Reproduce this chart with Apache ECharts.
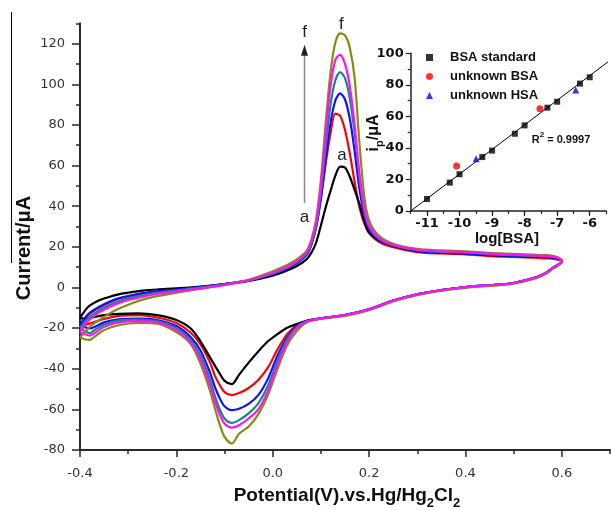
<!DOCTYPE html>
<html>
<head>
<meta charset="utf-8">
<script src="https://cdn.jsdelivr.net/npm/echarts@6/dist/echarts.min.js"></script>
<style>
html, body { margin: 0; padding: 0; background: #fff; }
#chart { width: 611px; height: 510px; }
</style>
</head>
<body>
<div id="chart"></div>
<script>
// Potential steps of the anodic (forward) and cathodic (reverse) scans, V vs SCE
const fwdPotential = [-0.4, -0.39, -0.38, -0.36, -0.34, -0.32, -0.3, -0.27, -0.24, -0.2, -0.15, -0.1, -0.05, 0, 0.03, 0.05, 0.07, 0.08, 0.09, 0.1, 0.11, 0.12, 0.13, 0.14, 0.15, 0.16, 0.17, 0.18, 0.19, 0.2, 0.22, 0.25, 0.3, 0.35, 0.4, 0.45, 0.5, 0.55, 0.57, 0.59, 0.6];
const revPotential = [0.59, 0.58, 0.57, 0.55, 0.5, 0.45, 0.4, 0.35, 0.3, 0.25, 0.2, 0.15, 0.1, 0.07, 0.05, 0.03, 0.01, -0.01, -0.03, -0.05, -0.07, -0.085, -0.1, -0.11, -0.12, -0.13, -0.15, -0.17, -0.2, -0.24, -0.28, -0.32, -0.35, -0.37, -0.38, -0.39, -0.4];

// Currents (µA), curve a .. f
const fwdA = [-15, -11.5, -9, -6.3, -4.7, -3.4, -2.6, -1.6, -1.0, -0.5, 0.4, 1.6, 3.2, 5.8, 8.3, 10.5, 13.8, 17, 22, 30.5, 39.5, 47.5, 55, 59.5, 59, 54.5, 48, 41, 32.5, 27, 23.2, 20.4, 17.9, 17.1, 16.7, 15.9, 15.4, 15.1, 14.9, 14.3, 12.8];
const revA = [10.8, 9.4, 7.6, 5.2, 2.2, 1.1, 0.2, -1.3, -3.4, -6.5, -10.8, -13.6, -15.2, -16.4, -18, -19.8, -23, -26.5, -31.5, -37, -43, -47.6, -46, -42.4, -38.5, -34.5, -26.5, -20.2, -16, -13.6, -12.8, -13, -13.6, -14.5, -15.2, -15.4, -15];

const fwdB = [-19, -15.5, -13, -10, -7.5, -5.6, -4.4, -3, -2, -1.1, 0.2, 1.7, 3.5, 6.3, 9, 11.8, 16, 21, 30, 44, 61, 76, 85.5, 84.5, 77.5, 66, 52, 39.5, 31.5, 26.8, 22.5, 19.8, 17.4, 16.7, 16.3, 15.4, 15, 14.5, 14.3, 13.8, 12.6];
const revB = [10.8, 9.4, 7.6, 5.2, 2.2, 1.1, 0.2, -1.3, -3.4, -6.5, -10.8, -13.6, -15.2, -16.5, -18.5, -23, -30.5, -39.5, -45.5, -49.5, -52, -53, -51.5, -48, -43.5, -37, -28, -22.3, -17.5, -14.8, -13.6, -14, -15.5, -17, -17.8, -18.5, -19];

const fwdC = [-18.5, -15, -12.5, -9.5, -7.2, -5.4, -4.2, -2.8, -1.9, -1.0, 0.2, 1.7, 3.5, 6.5, 9.3, 12, 16, 21, 29.5, 44, 63, 81, 92, 95.5, 92.5, 83, 67, 48.5, 35.5, 28.8, 23.5, 20.5, 18, 17.2, 16.8, 16, 15.5, 15.2, 15, 14.4, 12.8];
const revC = [10.8, 9.4, 7.6, 5.2, 2.2, 1.1, 0.2, -1.3, -3.4, -6.5, -10.8, -13.6, -15.2, -16.6, -19, -24.5, -33.5, -45, -53, -57.3, -59.7, -60.4, -58.5, -54.5, -49, -42, -31, -24.5, -19, -16, -15.3, -15.7, -17.2, -19.5, -20.2, -19.6, -18.5];

const fwdD = [-20, -17, -14.5, -11.3, -8.8, -6.8, -5.4, -3.8, -2.7, -1.5, -0.1, 1.5, 3.5, 6.8, 9.7, 12.5, 16.5, 21.5, 30.5, 47, 69, 90, 102, 106, 103, 93, 76, 54, 38, 30, 24, 20.8, 18.3, 17.5, 17.2, 16.4, 15.9, 15.5, 15.3, 14.6, 13];
const revD = [10.8, 9.4, 7.6, 5.2, 2.2, 1.1, 0.2, -1.3, -3.4, -6.5, -10.8, -13.6, -15.2, -16.7, -19.5, -25.5, -36, -48.5, -57, -62, -65.3, -66.7, -64.5, -60, -53.5, -45.5, -33.5, -26, -20, -16.6, -15.8, -16.3, -18.2, -21, -22.5, -21.5, -20];

const fwdE = [-22, -18.5, -15.8, -12.3, -9.7, -7.7, -6.2, -4.5, -3.2, -1.9, -0.4, 1.3, 3.5, 7.2, 10.2, 13, 17, 22.5, 32, 50, 76, 99, 112, 114.5, 110, 99, 80, 56, 39, 30.5, 24.5, 21, 18.6, 17.8, 17.4, 16.6, 16.1, 15.7, 15.5, 14.8, 13];
const revE = [10.8, 9.4, 7.6, 5.2, 2.2, 1.1, 0.2, -1.3, -3.4, -6.5, -10.8, -13.6, -15.2, -16.9, -20, -27, -38, -51, -60, -64.5, -67.8, -69, -67, -62.5, -56, -48, -35.5, -27.3, -21, -17.3, -16.6, -17.2, -19.3, -22.5, -23.7, -23, -22];

const fwdF = [-24.5, -22, -19.5, -16, -13, -10.5, -8.5, -6, -4.3, -2.6, -0.7, 1.2, 3.8, 8, 11, 13.8, 18, 23.5, 33.5, 53, 81, 106, 120.5, 125, 124, 118, 103, 71, 45, 33, 25.5, 21.5, 19, 18.2, 17.8, 17, 16.5, 16, 15.9, 15, 13.2];
const revF = [10.4, 9.0, 7.2, 4.8, 1.8, 0.7, -0.2, -1.7, -3.8, -6.9, -11.2, -14, -15.5, -17.2, -21.5, -28.5, -40, -53, -62.5, -68.5, -72, -76.8, -73.5, -67.5, -59.5, -51, -37.5, -28, -22, -17.8, -17.5, -18.6, -21, -24.3, -25.8, -25.5, -24.5];

const curveColors = ['#000000', '#ff0000', '#1010ff', '#0f8a80', '#ff10ff', '#8a8a10'];

// Calibration: log[BSA] against peak current (µA)
const stdLogC = [-11, -10.3, -10, -9.3, -9, -8.3, -8, -7.3, -7, -6.3, -6];
const stdIp = [7.6, 18.0, 23.3, 34.2, 38.3, 49.0, 54.3, 65.5, 69.3, 80.8, 84.8];
const bsaLogC = [-10.09, -7.53];
const bsaIp = [28.5, 64.9];
const hsaLogC = [-9.49, -6.43];
const hsaIp = [33.2, 76.7];
const fitLogC = [-11.5, -5.36];
const fitIp = [0, 95.8];

const mainXMajor = [-0.4, -0.2, 0, 0.2, 0.4, 0.6];
const mainYMajor = [-80, -60, -40, -20, 0, 20, 40, 60, 80, 100, 120];
const insetXMajor = [-11, -10, -9, -8, -7, -6];

const zip = (xs, ys) => xs.map((x, i) => [x, ys[i]]);
const loop = (f, r) => zip(fwdPotential, f).concat(zip(revPotential, r));

const curves = [
  ['a', fwdA, revA], ['b', fwdB, revB], ['c', fwdC, revC],
  ['d', fwdD, revD], ['e', fwdE, revE], ['f', fwdF, revF]
];
// paint order: b, a, c, d, f, e (e ends on top)
const drawOrder = [1, 0, 2, 3, 5, 4];

const AX = '#2a2a2a';
const SANS = 'Liberation Sans, Arial, sans-serif';
const DEJAVU = 'DejaVu Sans, sans-serif';

const chart = echarts.init(document.getElementById('chart'), null, { renderer: 'canvas' });

const series = drawOrder.map(k => ({
  name: 'curve ' + curves[k][0],
  type: 'line',
  xAxisIndex: 0, yAxisIndex: 0,
  data: loop(curves[k][1], curves[k][2]),
  showSymbol: false,
  smooth: 0.3,
  silent: true,
  lineStyle: { color: curveColors[k], width: 2.2 },
  z: 2
}));

series.push(
  { name: 'fit', type: 'line', xAxisIndex: 3, yAxisIndex: 2, data: zip(fitLogC, fitIp),
    showSymbol: false, clip: false, silent: true, lineStyle: { color: '#000', width: 1 }, z: 3 },
  { name: 'BSA standard', type: 'scatter', xAxisIndex: 3, yAxisIndex: 2, data: zip(stdLogC, stdIp),
    symbol: 'rect', symbolSize: 6, itemStyle: { color: '#000' }, z: 4 },
  { name: 'unknown BSA', type: 'scatter', xAxisIndex: 3, yAxisIndex: 2, data: zip(bsaLogC, bsaIp),
    symbol: 'circle', symbolSize: 7, itemStyle: { color: '#ff0000' }, z: 4 },
  { name: 'unknown HSA', type: 'scatter', xAxisIndex: 3, yAxisIndex: 2, data: zip(hsaLogC, hsaIp),
    symbol: 'triangle', symbolSize: 7, itemStyle: { color: '#0000ff' }, z: 4 }
);

const fmt1 = v => (Math.abs(v) < 1e-9 ? 0 : v).toFixed(1);

const option = {
  animation: false,
  backgroundColor: '#fff',
  grid: [
    { left: 80, top: 23.3, right: 1, bottom: 60, outerBoundsMode: 'none', containLabel: false },
    { left: 410.7, top: 53.3, width: 195.3, height: 157.7, outerBoundsMode: 'none', containLabel: false }
  ],
  xAxis: [
    { // main potential axis, major ticks + labels
      gridIndex: 0, type: 'value', position: 'bottom', min: -0.4, max: 0.7,
      axisLine: { show: true, onZero: false, lineStyle: { color: AX, width: 2 } },
      axisTick: { show: true, customValues: mainXMajor, length: 7, lineStyle: { color: AX, width: 1.5 } },
      axisLabel: { customValues: mainXMajor, formatter: fmt1, fontFamily: DEJAVU, fontSize: 13, color: '#333', margin: 17 },
      splitLine: { show: false }
    },
    { // main potential axis, minor ticks
      gridIndex: 0, type: 'value', position: 'bottom', min: -0.4, max: 0.7, interval: 0.1,
      axisLine: { show: false, onZero: false },
      axisTick: { show: true, length: 4, lineStyle: { color: AX, width: 1.5 } },
      axisLabel: { show: false }, splitLine: { show: false }
    },
    { // inset axis, half-unit ticks
      gridIndex: 1, type: 'value', position: 'bottom', min: -11.5, max: -5.5, interval: 0.5,
      axisLine: { show: true, onZero: false, lineStyle: { color: '#222', width: 1.5 } },
      axisTick: { show: true, length: 3, lineStyle: { color: '#222', width: 1.2 } },
      axisLabel: { show: false }, splitLine: { show: false }
    },
    { // inset axis, unit ticks + labels
      gridIndex: 1, type: 'value', position: 'bottom', min: -11.5, max: -5.5,
      axisLine: { show: false, onZero: false },
      axisTick: { show: true, customValues: insetXMajor, length: 5, lineStyle: { color: '#222', width: 1.2 } },
      axisLabel: { customValues: insetXMajor, fontFamily: DEJAVU, fontWeight: 'bold', fontSize: 13, color: '#111', margin: 6 },
      splitLine: { show: false }
    }
  ],
  yAxis: [
    {
      gridIndex: 0, type: 'value', position: 'left', min: -80, max: 130,
      axisLine: { show: true, onZero: false, lineStyle: { color: AX, width: 2 } },
      axisTick: { show: true, customValues: mainYMajor, length: 8, lineStyle: { color: AX, width: 1.5 } },
      axisLabel: { customValues: mainYMajor, fontFamily: DEJAVU, fontSize: 13, color: '#333', margin: 15 },
      splitLine: { show: false }
    },
    {
      gridIndex: 0, type: 'value', position: 'left', min: -80, max: 130, interval: 10,
      axisLine: { show: false, onZero: false },
      axisTick: { show: true, length: 4, lineStyle: { color: AX, width: 1.5 } },
      axisLabel: { show: false }, splitLine: { show: false }
    },
    {
      gridIndex: 1, type: 'value', position: 'left', min: 0, max: 100, interval: 20,
      axisLine: { show: true, onZero: false, lineStyle: { color: '#222', width: 1.5 } },
      axisTick: { show: true, length: 5, lineStyle: { color: '#222', width: 1.2 } },
      minorTick: { show: true, splitNumber: 2, length: 3, lineStyle: { color: '#222', width: 1.2 } },
      axisLabel: { fontFamily: DEJAVU, fontWeight: 'bold', fontSize: 13, color: '#111', margin: 7 },
      splitLine: { show: false }
    }
  ],
  legend: {
    data: [
      { name: 'BSA standard', icon: 'rect' },
      { name: 'unknown BSA', icon: 'circle' },
      { name: 'unknown HSA', icon: 'triangle' }
    ],
    orient: 'vertical', left: 421, top: 46,
    itemWidth: 7, itemHeight: 7, itemGap: 6,
    selectedMode: false,
    textStyle: { fontFamily: SANS, fontWeight: 'bold', fontSize: 13, color: '#111', lineHeight: 13, padding: [0, 0, 0, 12] }
  },
  series: series
};

chart.setOption(option);

// Text made of pieces with sub/superscripts, centred on (cx, cy)
const meas = document.createElement('canvas').getContext('2d');
function pieceText(parts, cx, cy, rotation, color) {
  let total = 0;
  const widths = parts.map(p => {
    meas.font = (p.weight || 'normal') + ' ' + p.size + 'px ' + p.family;
    const w = meas.measureText(p.t).width;
    total += w;
    return w;
  });
  let x = -total / 2;
  const children = parts.map((p, i) => {
    const el = {
      type: 'text', x: x, y: p.dy || 0,
      style: { text: p.t, fontSize: p.size, fontWeight: p.weight || 'normal', fontFamily: p.family,
               fill: color || '#111', align: 'left', verticalAlign: 'middle' }
    };
    x += widths[i];
    return el;
  });
  return { type: 'group', x: cx, y: cy, rotation: rotation || 0, children: children };
}

const px = (v, i) => chart.convertToPixel({ xAxisIndex: 0, yAxisIndex: 0 }, [v, i]);
const arrowTop = px(0.066, 119.5);
const arrowBot = px(0.066, 41.5);
const fLeft = px(0.066, 125.5);
const aLeft = px(0.066, 34.5);
const fPeak = px(0.1425, 129.5);
const aPeak = px(0.1435, 65);

const B = 'bold';
const graphics = [
  // axis titles
  pieceText([
    { t: 'Potential(V).vs.Hg/Hg', size: 19, weight: B, family: SANS },
    { t: '2', size: 13, weight: B, family: SANS, dy: 7 },
    { t: 'Cl', size: 19, weight: B, family: SANS },
    { t: '2', size: 13, weight: B, family: SANS, dy: 7 }
  ], 347, 496, 0, '#111'),
  pieceText([{ t: 'Current/\u03bcA', size: 20, weight: B, family: SANS }], 24, 248, Math.PI / 2, '#111'),
  pieceText([
    { t: 'i', size: 16, weight: B, family: SANS },
    { t: 'p', size: 11, weight: B, family: SANS, dy: 6 },
    { t: '/\u03bcA', size: 16, weight: B, family: SANS }
  ], 374, 133, Math.PI / 2, '#111'),
  pieceText([{ t: 'log[BSA]', size: 15, weight: B, family: SANS }], 507, 239, 0, '#111'),
  pieceText([
    { t: 'R', size: 11, weight: B, family: SANS },
    { t: '2', size: 8, weight: B, family: SANS, dy: -5 },
    { t: ' = 0.9997', size: 11, weight: B, family: SANS }
  ], 561, 140, 0, '#111'),
  // scan-direction arrow a -> f
  { type: 'line', shape: { x1: arrowBot[0], y1: arrowBot[1], x2: arrowTop[0], y2: arrowTop[1] + 8 },
    style: { stroke: '#8a8a8a', lineWidth: 1.5 } },
  { type: 'polygon', shape: { points: [[arrowTop[0], arrowTop[1]], [arrowTop[0] - 3.5, arrowTop[1] + 11], [arrowTop[0] + 3.5, arrowTop[1] + 11]] },
    style: { fill: '#222' } },
  { type: 'text', x: fLeft[0], y: fLeft[1], style: { text: 'f', fontSize: 17, fontFamily: SANS, fill: '#222', align: 'center', verticalAlign: 'middle' } },
  { type: 'text', x: aLeft[0], y: aLeft[1], style: { text: 'a', fontSize: 17, fontFamily: SANS, fill: '#222', align: 'center', verticalAlign: 'middle' } },
  { type: 'text', x: fPeak[0], y: fPeak[1], style: { text: 'f', fontSize: 17, fontFamily: SANS, fill: '#222', align: 'center', verticalAlign: 'middle' } },
  { type: 'text', x: aPeak[0], y: aPeak[1], style: { text: 'a', fontSize: 17, fontFamily: SANS, fill: '#222', align: 'center', verticalAlign: 'middle' } },
  // thin rule at the far left edge
  { type: 'line', shape: { x1: 11.5, y1: 12, x2: 11.5, y2: 263 }, style: { stroke: '#000', lineWidth: 1 } }
];

chart.setOption({ graphic: graphics });
</script>
</body>
</html>
